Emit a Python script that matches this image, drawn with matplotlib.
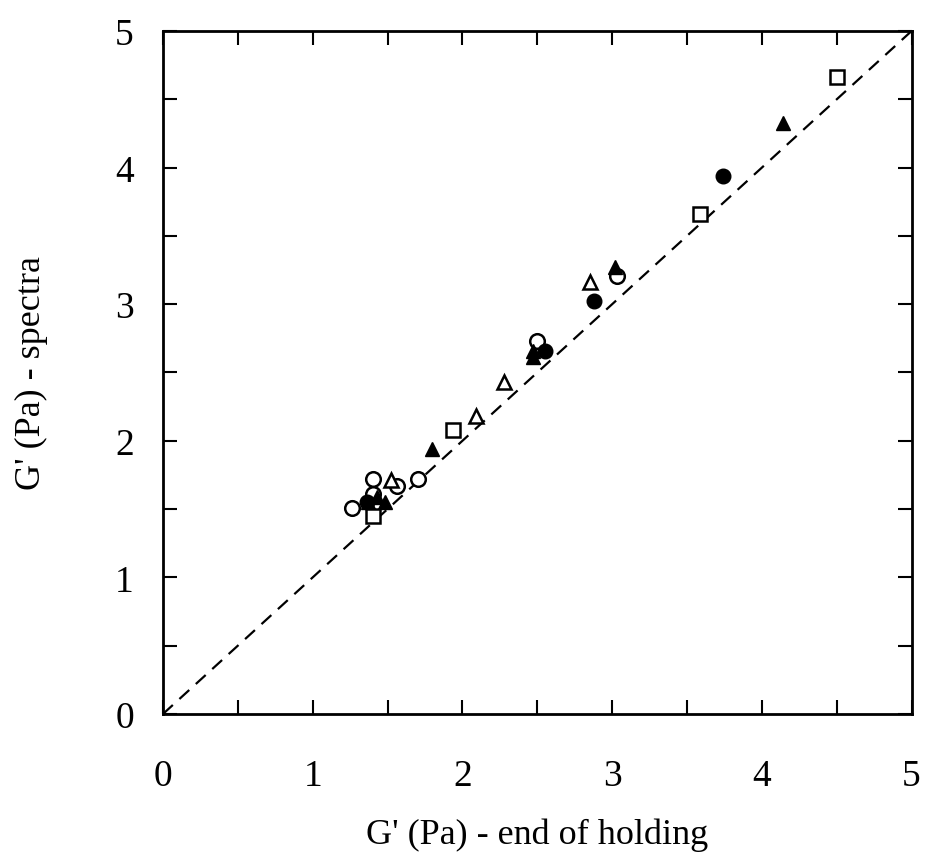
import numpy as np
import matplotlib
matplotlib.use("Agg")
import matplotlib.pyplot as plt
from matplotlib.ticker import MultipleLocator

plt.rcParams['font.family'] = ['Liberation Serif', 'DejaVu Serif']

# open circles
oc_x = [1.26, 1.40, 1.40, 1.56, 1.70, 2.50, 3.03]
oc_y = [1.51, 1.61, 1.72, 1.67, 1.72, 2.73, 3.21]
# filled circles
fc_x = [1.36, 2.55, 2.88, 3.74]
fc_y = [1.55, 2.66, 3.02, 3.94]
# open triangles
ot_x = [1.52, 2.09, 2.28, 2.85]
ot_y = [1.71, 2.18, 2.43, 3.16]
# filled triangles
ft_x = [1.37, 1.43, 1.48, 1.80, 2.47, 2.47, 3.02, 4.14]
ft_y = [1.55, 1.59, 1.55, 1.94, 2.61, 2.66, 3.27, 4.33]
# open squares
os_x = [1.40, 1.94, 3.59, 4.50]
os_y = [1.45, 2.08, 3.66, 4.66]

fig = plt.figure(figsize=(9.34, 8.54), dpi=100)
ax = fig.add_axes([0.1745, 0.1628, 0.8015, 0.7997])

ax.plot([0, 5], [0, 5], 'k--', lw=1.6, dashes=(6, 4), zorder=1)

ms = 10.5
ax.plot(oc_x, oc_y, 'o', mfc='white', mec='black', mew=1.8, ms=ms, ls='none')
ax.plot(fc_x, fc_y, 'o', mfc='black', mec='black', ms=ms, ls='none')
ax.plot(ot_x, ot_y, '^', mfc='white', mec='black', mew=1.8, ms=ms, ls='none')
ax.plot(ft_x, ft_y, '^', mfc='black', mec='black', ms=ms, ls='none')
ax.plot(os_x, os_y, 's', mfc='white', mec='black', mew=1.8, ms=ms - 1, ls='none')

ax.set_xlim(0, 5)
ax.set_ylim(0, 5)
ax.xaxis.set_major_locator(MultipleLocator(1))
ax.yaxis.set_major_locator(MultipleLocator(1))
ax.xaxis.set_minor_locator(MultipleLocator(0.5))
ax.yaxis.set_minor_locator(MultipleLocator(0.5))
ax.tick_params(which='both', direction='in', top=True, right=True,
               length=10, width=1.5, labelsize=27)
ax.tick_params(axis='x', pad=32)
ax.tick_params(axis='y', pad=21)
for s in ax.spines.values():
    s.set_linewidth(2)

ax.set_xlabel("G' (Pa) - end of holding", fontsize=26, labelpad=18)
ax.set_ylabel("G' (Pa) - spectra", fontsize=26, labelpad=48)

fig.savefig('out.png', dpi=100)
